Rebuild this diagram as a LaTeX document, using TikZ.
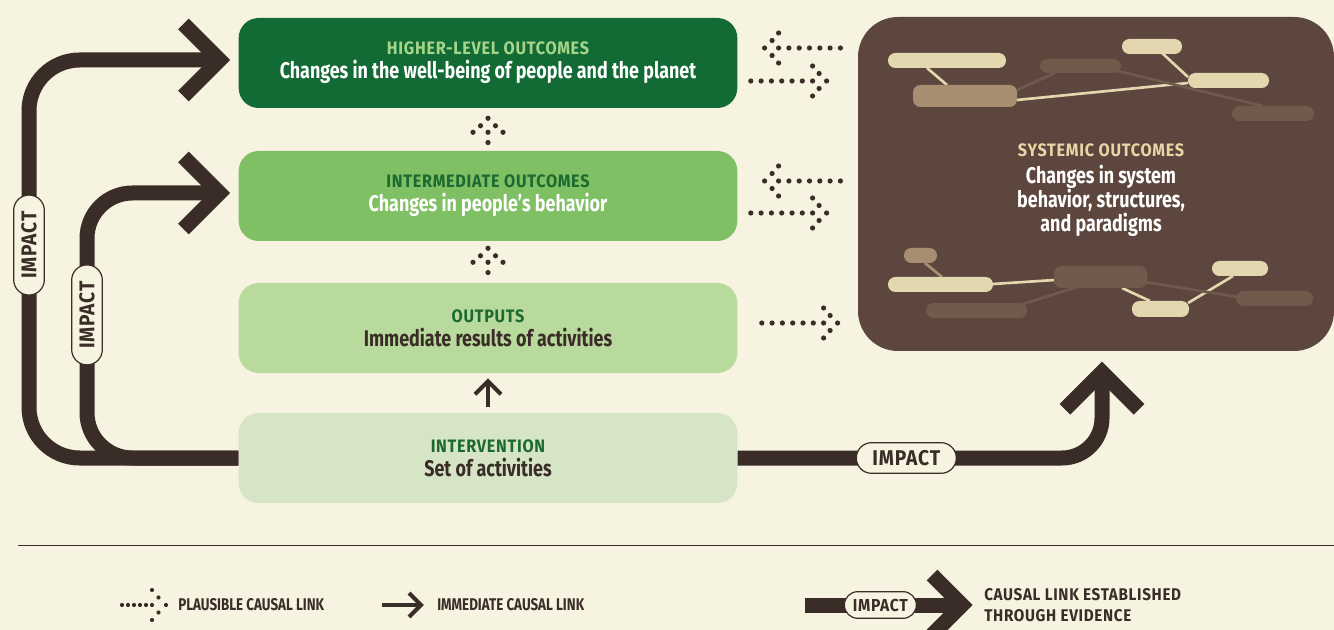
\documentclass[tikz,border=0pt]{standalone}
\usepackage{fontspec}
\setmainfont{Fira Sans}[FakeStretch=0.79]
\newfontfamily\headfam{Fira Sans}[FakeStretch=0.9, LetterSpace=4]
\usetikzlibrary{shapes.misc,calc}

\definecolor{bg}{HTML}{F6F3E0}
\definecolor{ink}{HTML}{3A2C27}
\definecolor{highc}{HTML}{126B34}
\definecolor{interc}{HTML}{80C064}
\definecolor{outc}{HTML}{B9DA9D}
\definecolor{intvc}{HTML}{D5E5C6}
\definecolor{darkgreen}{HTML}{1C6A31}
\definecolor{lightgreen}{HTML}{A6D58A}
\definecolor{sysc}{HTML}{5D463D}
\definecolor{cream}{HTML}{E3D7AF}
\definecolor{tan}{HTML}{A78E71}
\definecolor{midbrown}{HTML}{705A4C}
\definecolor{systitle}{HTML}{E8D6A6}

\newcommand{\bodyfont}{\fontsize{17}{18}\bfseries\selectfont}
\newcommand{\headfont}{\headfam\fontsize{13.5}{15}\bfseries\selectfont}
\newcommand{\legfont}{\fontsize{12.7}{15.5}\bfseries\selectfont}

\tikzset{
  level/.style={rounded corners=15pt, minimum width=374pt, minimum height=67.5pt,
    align=center, font=\bodyfont, text=ink, inner sep=0pt},
  sysbox/.style={fill=sysc, rounded corners=30pt, minimum width=357pt,
    minimum height=250.5pt},
  systext/.style={align=center, font=\bodyfont, text=white, inner sep=0pt},
  impact/.style={ink, line width=11.25pt, rounded corners=#1},
  impact/.default=36pt,
  impactlbl/.style={rounded rectangle, sharp corners, draw=ink, line width=0.9pt,
    fill=bg, text=ink, font=\headfam\fontsize{16}{16}\bfseries\selectfont,
    minimum width=77pt, minimum height=23pt, inner sep=1pt},
  legendtxt/.style={text=ink, font=\legfont, align=left, inner sep=0pt},
  pics/dotarrow/.style n args={3}{code={
    \fill[ink] (0,0) circle (#3);
    \foreach \s in {1,-1} {
      \fill[ink] (-7.5,\s*7.5) circle (#3);
      \fill[ink] (-14,\s*15) circle (#3);
    }
    \foreach \k in {0,...,#1} {
      \fill[ink] (-14-\k*#2,0) circle (#3);
    }
  }},
  pics/chevron/.style 2 args={code={
    \draw[ink, line width=#2, line join=miter, line cap=butt]
      (-#1,-#1) -- (0,0) -- (-#1,#1);
  }}
}

\begin{document}
\begin{tikzpicture}[x=0.75pt, y=-0.75pt]
\useasboundingbox[fill=bg] (0,0) rectangle (1334,630);

% Levels
\node[level, fill=intvc] (interv) at (488,458)
  {{\headfont\color{darkgreen}INTERVENTION}\\ Set of activities};
\node[level, fill=outc] (outputs) at (488,328)
  {{\headfont\color{darkgreen}OUTPUTS}\\ Immediate results of activities};
\node[level, fill=interc, text=white] (inter) at (488,196)
  {{\headfont\color{darkgreen}INTERMEDIATE OUTCOMES}\\ Changes in people’s behavior};
\node[level, fill=highc, text=white] (high) at (488,63)
  {{\headfont\color{lightgreen}HIGHER-LEVEL OUTCOMES}\\ Changes in the well-being of people and the planet};

% Systemic outcomes
\node[sysbox] (sys) at (1096,184) {};
\node[systext] (systxt) at ($(sys.center)+(5,6)$)
  {{\headfont\color{systitle}SYSTEMIC OUTCOMES}\\[2pt] Changes in system\\ behavior, structures,\\ and paradigms};

% Network inside the systemic box
\foreach \c/\a/\b/\cc/\d in {cream/927/68/947/85, midbrown/1017/90/1055/73,
    cream/1017/100/1188/83, cream/1162/53/1188/77, midbrown/1118/71/1263/106,
    tan/925/263/942/277, cream/993/284/1055/280, midbrown/1023/304/1077/287,
    cream/1122/288/1150/301, cream/1188/303/1233/276, midbrown/1145/282/1238/297} {
  \draw[\c, line width=2pt] (\a,\b) -- (\cc,\d);
}
\foreach \c/\a/\b/\cc/\d in {cream/888/53/1006/68, tan/913/85/1017/107,
    midbrown/1040/59/1121/73, cream/1122/39/1182/54, cream/1188/73/1269/88,
    midbrown/1232/106/1314/121,
    tan/904/248/937/263, cream/888/277/993/292, midbrown/926/303/1027/318,
    midbrown/1054/266/1147/288, cream/1212/261/1268/276,
    cream/1132/301/1189/317, midbrown/1236/291/1313/306} {
  \fill[\c, rounded corners=5.5pt] (\a,\b) rectangle (\cc,\d);
}

% Plausible links
\path (high.east) ++(27,-15) pic[rotate=180] {dotarrow={6}{10.3}{2.6}};
\path (high.east) ++(89,18) pic {dotarrow={6}{10.3}{2.6}};
\path (inter.east) ++(27,-15) pic[rotate=180] {dotarrow={6}{10.3}{2.6}};
\path (inter.east) ++(89,17) pic {dotarrow={6}{10.3}{2.6}};
\path (outputs.east) ++(100,-5) pic {dotarrow={6}{10.3}{2.6}};
\path (high.south) ++(0,10) pic[rotate=90] {dotarrow={1}{10.3}{2.6}};
\path (inter.south) ++(0,7) pic[rotate=90] {dotarrow={1}{10.3}{2.6}};

% Immediate link
\coordinate (outtip) at ($(outputs.south)+(0,8)$);
\draw[ink, line width=3pt] ($(interv.north)+(0,-6)$) -- (outtip);
\path (outtip) pic[rotate=90] {chevron={13}{3pt}};

% Impact arrows
\coordinate (hightip) at ($(high.west)+(-19,-3)$);
\coordinate (intertip) at ($(inter.west)+(-19,-3)$);
\coordinate (systip) at ($(sys.south)+(6,21)$);
\draw[impact=38pt] (interv.west) -- (29,458)
  -- node[impactlbl, rotate=90, pos=0.535] {IMPACT} (29,60) -- (hightip);
\draw[impact=34pt] (interv.west) -- (87,458)
  -- node[impactlbl, rotate=90, pos=0.54] {IMPACT} (87,193) -- (intertip);
\draw[impact=30pt] (interv.east)
  -- node[impactlbl, pos=0.463] {IMPACT} (interv.east -| systip) -- (systip);
\path (hightip) pic {chevron={36}{11.25pt}};
\path (intertip) pic {chevron={36}{11.25pt}};
\path (systip) pic[rotate=90] {chevron={37}{11.25pt}};

% Legend
\draw[ink, line width=0.75pt] (18,545) -- (1334,545);
\node[legendtxt, anchor=west] (plaus) at (178,605) {PLAUSIBLE CAUSAL LINK};
\node[legendtxt, anchor=west] (immed) at (437,605) {IMMEDIATE CAUSAL LINK};
\node[legendtxt, anchor=west, font=\headfam\legfont] (estab) at (984,605)
  {CAUSAL LINK ESTABLISHED\\THROUGH EVIDENCE};
\path ($(plaus.west)+(-12,0)$) pic {dotarrow={5}{6}{2.1}};
\coordinate (immtip) at ($(immed.west)+(-16,0)$);
\draw[ink, line width=3pt] ($(immed.west)+(-55,0)$) -- (immtip);
\path (immtip) pic {chevron={12}{3pt}};
\coordinate (esttip) at ($(estab.west)+(-22,0)$);
\draw[impact] ($(estab.west)+(-179,0)$)
  -- node[impactlbl, pos=0.48, minimum width=56pt, minimum height=20pt,
     font=\headfam\fontsize{13}{13}\bfseries\selectfont] {IMPACT} (esttip);
\path (esttip) pic {chevron={30}{11.25pt}};
\end{tikzpicture}
\end{document}
